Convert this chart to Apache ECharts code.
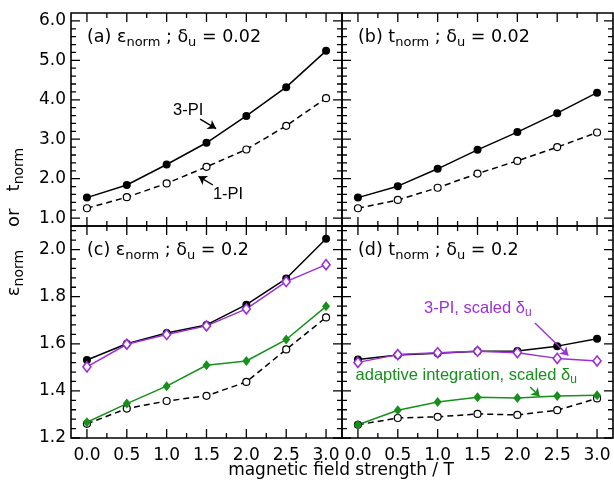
<!DOCTYPE html>
<html>
<head>
<meta charset="utf-8">
<script src="https://cdn.jsdelivr.net/npm/echarts@6/dist/echarts.min.js"></script>
<style>
  html, body { margin: 0; padding: 0; background: #fff; }
  #chart { width: 614px; height: 485px; }
</style>
</head>
<body>
<div id="chart"></div>
<script>
// Magnetic field strength (T) shared by all panels
const fieldT = [0.0, 0.5, 1.0, 1.5, 2.0, 2.5, 3.0];

// (a) epsilon_norm, delta_u = 0.02
const epsPI3_002 = [1.52, 1.84, 2.36, 2.91, 3.59, 4.32, 5.24];
const epsPI1_002 = [1.25, 1.53, 1.88, 2.30, 2.74, 3.34, 4.04];
// (b) t_norm, delta_u = 0.02
const tPI3_002 = [1.52, 1.81, 2.25, 2.73, 3.18, 3.66, 4.18];
const tPI1_002 = [1.25, 1.46, 1.77, 2.13, 2.45, 2.80, 3.17];
// (c) epsilon_norm, delta_u = 0.2
const epsPI3_02 = [1.531, 1.600, 1.646, 1.680, 1.766, 1.877, 2.046];
const epsPI3s_02 = [1.502, 1.598, 1.639, 1.676, 1.748, 1.864, 1.936];
const epsAdapt_02 = [1.267, 1.346, 1.420, 1.509, 1.527, 1.618, 1.759];
const epsPI1_02 = [1.260, 1.325, 1.357, 1.379, 1.438, 1.576, 1.712];
// (d) t_norm, delta_u = 0.2
const tPI3_02 = [1.533, 1.552, 1.560, 1.568, 1.569, 1.590, 1.621];
const tPI3s_02 = [1.521, 1.554, 1.562, 1.568, 1.562, 1.538, 1.527];
const tAdapt_02 = [1.256, 1.318, 1.353, 1.373, 1.370, 1.378, 1.381];
const tPI1_02 = [1.256, 1.285, 1.290, 1.302, 1.298, 1.318, 1.368];

// Tick values (labelled majors, unlabelled minors)
const xMajor = [0.0, 0.5, 1.0, 1.5, 2.0, 2.5, 3.0];
const xMinor = [0.25, 0.75, 1.25, 1.75, 2.25, 2.75];
const yTopMajor = [1.0, 2.0, 3.0, 4.0, 5.0, 6.0];
const yBotMajor = [1.2, 1.4, 1.6, 1.8, 2.0];

function minorBetween(major, step, lo, hi) {
  const out = [];
  const n = Math.round((hi - lo) / step);
  for (let i = 0; i <= n; i++) {
    const v = +(lo + i * step).toFixed(4);
    if (v <= lo || v >= hi) continue;
    if (major.some(m => Math.abs(m - v) < 1e-6)) continue;
    out.push(v);
  }
  return out;
}
const yTopMinor = minorBetween(yTopMajor, 0.2, 0.8, 6.2);
const yBotMinor = minorBetween(yBotMajor, 0.04, 1.2, 2.1);

const FONT = 'DejaVu Sans';
const ANN_FONT = 'Liberation Sans';
const PURPLE = '#9b30d8';
const GREEN = '#16901a';

const X_RANGE = [-0.2, 3.2];
const Y_TOP = [0.8, 6.2];
const Y_BOT = [1.2, 2.1];

const panels = [
  { left: 71, top: 13, width: 271, height: 213 },
  { left: 342, top: 13, width: 271, height: 213 },
  { left: 71, top: 226, width: 271, height: 212 },
  { left: 342, top: 226, width: 271, height: 212 }
];

function axis(dim, gridIndex, position, range, major, showLabels) {
  return {
    type: 'value', gridIndex, position, min: range[0], max: range[1],
    splitNumber: 5,
    splitLine: { show: false },
    axisLine: { show: false, onZero: false },
    axisTick: { show: false },
    axisLabel: showLabels ? {
      show: true,
      formatter: v => (major.some(m => Math.abs(m - Number(v)) < 1e-6) ? Number(v).toFixed(1) : ''),
      fontFamily: FONT, fontSize: 17, color: '#000',
      margin: dim === 'x' ? 9 : 5
    } : { show: false }
  };
}

const xAxes = [], yAxes = [];
panels.forEach((g, i) => {
  const isBottom = i >= 2, isLeft = i % 2 === 0;
  xAxes.push(axis('x', i, 'bottom', X_RANGE, xMajor, isBottom));
  yAxes.push(axis('y', i, 'left', isBottom ? Y_BOT : Y_TOP, isBottom ? yBotMajor : yTopMajor, isLeft));
});

function pairs(ys) { return fieldT.map((x, k) => [x, ys[k]]); }

const styles = {
  solid: { symbol: 'circle', symbolSize: 8, itemStyle: { color: '#000' },
           lineStyle: { color: '#000', width: 1.5, type: 'solid' } },
  dashed: { symbol: 'circle', symbolSize: 7, itemStyle: { color: '#fff', borderColor: '#000', borderWidth: 1.2 },
            lineStyle: { color: '#000', width: 1.5, type: [6, 4] } },
  purple: { symbol: 'diamond', symbolSize: [8, 10], itemStyle: { color: '#fff', borderColor: PURPLE, borderWidth: 1.6 },
            lineStyle: { color: PURPLE, width: 1.5, type: 'solid' } },
  green: { symbol: 'diamond', symbolSize: [8, 10], itemStyle: { color: GREEN },
           lineStyle: { color: GREEN, width: 1.5, type: 'solid' } }
};

function series(p, ys, kind, extra) {
  return Object.assign({
    type: 'line', xAxisIndex: p, yAxisIndex: p,
    data: pairs(ys), animation: false, silent: true
  }, styles[kind], extra || {});
}

function arrow(color, from, to) {
  return {
    silent: true, animation: false,
    symbol: ['none', 'arrow'], symbolSize: 8,
    lineStyle: { color, width: 1.4, type: 'solid' },
    label: { show: false },
    emphasis: { disabled: true },
    data: [[{ coord: from }, { coord: to }]]
  };
}

// Frame ticks for one panel, built as short broken line segments in the
// panel's own data space; tick lengths are given in pixels and converted
// with the panel's scale.
function frameTicks(p) {
  const g = panels[p];
  const isBottom = p >= 2;
  const yr = isBottom ? Y_BOT : Y_TOP;
  const yMaj = isBottom ? yBotMajor : yTopMajor;
  const yMin = isBottom ? yBotMinor : yTopMinor;
  const xPerPx = (X_RANGE[1] - X_RANGE[0]) / g.width;
  const yPerPx = (yr[1] - yr[0]) / g.height;
  const gap = ['-', '-'];
  const data = [];
  xMajor.map(v => [v, 9]).concat(xMinor.map(v => [v, 5])).forEach(([v, len]) => {
    data.push([v, yr[0]], [v, yr[0] + len * yPerPx], gap);
    data.push([v, yr[1]], [v, yr[1] - len * yPerPx], gap);
  });
  yMaj.map(v => [v, 9]).concat(yMin.map(v => [v, 5])).forEach(([v, len]) => {
    data.push([X_RANGE[0], v], [X_RANGE[0] + len * xPerPx, v], gap);
    data.push([X_RANGE[1], v], [X_RANGE[1] - len * xPerPx, v], gap);
  });
  return {
    type: 'line', xAxisIndex: p, yAxisIndex: p, data,
    symbol: 'none', showSymbol: false, connectNulls: false, clip: false,
    lineStyle: { color: '#000', width: 1.3, type: 'solid' },
    animation: false, silent: true, z: 1
  };
}

const seriesList = [
  series(0, epsPI1_002, 'dashed', { markLine: arrow('#000', [1.58, 1.84], [1.40, 2.06]) }),
  series(0, epsPI3_002, 'solid', { markLine: arrow('#000', [1.42, 3.51], [1.62, 3.27]) }),
  series(1, tPI1_002, 'dashed'),
  series(1, tPI3_002, 'solid'),
  series(2, epsPI1_02, 'dashed'),
  series(2, epsPI3_02, 'solid'),
  series(2, epsAdapt_02, 'green'),
  series(2, epsPI3s_02, 'purple'),
  series(3, tPI1_02, 'dashed'),
  series(3, tPI3_02, 'solid'),
  series(3, tAdapt_02, 'green', { markLine: arrow(GREEN, [2.16, 1.417], [2.28, 1.376]) }),
  series(3, tPI3s_02, 'purple', { markLine: arrow(PURPLE, [2.22, 1.688], [2.64, 1.550]) })
].concat(panels.map((g, p) => frameTicks(p)));

const chart = echarts.init(document.getElementById('chart'), null, { renderer: 'canvas' });

chart.setOption({
  backgroundColor: '#fff',
  animation: false,
  grid: panels.map(g => Object.assign({
    show: true, borderColor: '#000', borderWidth: 1.6, backgroundColor: 'transparent',
    containLabel: false, outerBoundsMode: 'none'
  }, g)),
  xAxis: xAxes,
  yAxis: yAxes,
  series: seriesList
});

// Text annotations placed in data coordinates of each panel
const subRich = size => ({
  sub: { fontFamily: FONT, fontSize: size, lineHeight: 8, verticalAlign: 'bottom', fill: '#000' }
});
const annSubRich = color => ({
  sub: { fontFamily: ANN_FONT, fontSize: 12, lineHeight: 8, verticalAlign: 'bottom', fill: color }
});

const notes = [
  { panel: 0, at: [1.08, 3.74], text: '3-PI', color: '#000' },
  { panel: 0, at: [1.58, 1.59], text: '1-PI', color: '#000' },
  { panel: 3, at: [0.83, 1.752], text: '3-PI, scaled δ{sub|u}', color: PURPLE },
  { panel: 3, at: [-0.03, 1.467], text: 'adaptive integration, scaled δ{sub|u}', color: GREEN }
];

const panelTitles = [
  '(a) ε{sub|norm} ; δ{sub|u} = 0.02',
  '(b) t{sub|norm} ; δ{sub|u} = 0.02',
  '(c) ε{sub|norm} ; δ{sub|u} = 0.2',
  '(d) t{sub|norm} ; δ{sub|u} = 0.2'
];

const graphics = [];
panelTitles.forEach((t, i) => {
  const g = panels[i];
  graphics.push({
    type: 'text', left: g.left + 16, top: g.top + 12, silent: true,
    style: { text: t, fontFamily: FONT, fontSize: 17.5, lineHeight: 24, fill: '#000', rich: subRich(13) }
  });
});

notes.forEach(n => {
  const p = chart.convertToPixel({ xAxisIndex: n.panel, yAxisIndex: n.panel }, n.at);
  graphics.push({
    type: 'text', x: p[0], y: p[1], silent: true,
    style: {
      text: n.text, fontFamily: ANN_FONT, fontSize: 16.5, lineHeight: 22,
      fill: n.color, align: 'left', verticalAlign: 'middle', rich: annSubRich(n.color)
    }
  });
});

// Axis titles
graphics.push({
  type: 'text', x: 341, y: 471, silent: true,
  style: { text: 'magnetic field strength / T', fontFamily: FONT, fontSize: 17,
           fill: '#000', align: 'center', verticalAlign: 'middle' }
});
graphics.push({
  type: 'text', x: 14, y: 222, rotation: Math.PI / 2, silent: true,
  style: { text: 'ε{sub|norm}    or   t{sub|norm}', fontFamily: FONT, fontSize: 18, lineHeight: 24,
           fill: '#000', align: 'center', verticalAlign: 'middle', rich: subRich(14) }
});

chart.setOption({ graphic: graphics });
</script>
</body>
</html>
